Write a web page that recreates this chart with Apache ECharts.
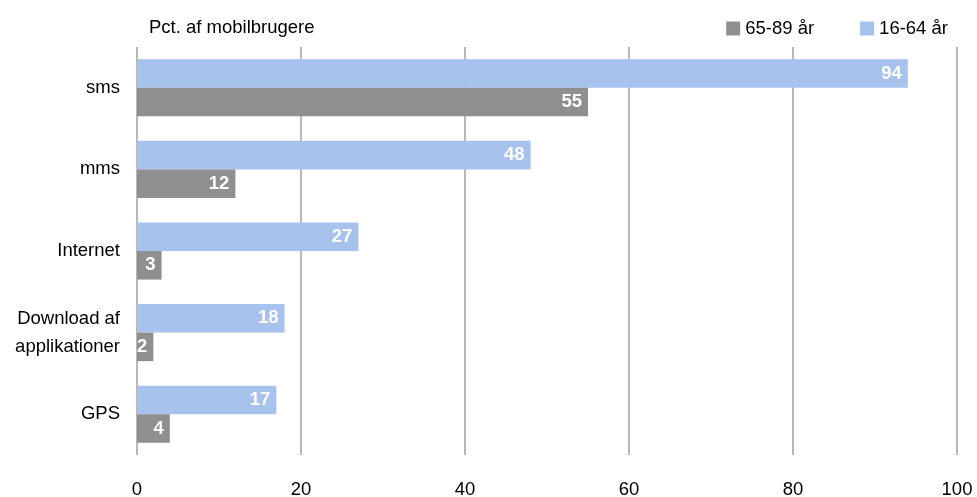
<!DOCTYPE html>
<html><head><meta charset="utf-8">
<script src="https://cdn.jsdelivr.net/npm/echarts@6/dist/echarts.min.js"></script>
<style>html,body{margin:0;padding:0;background:#fff}#c{width:977px;height:497px}</style>
</head><body><div id="c"></div>
<script>
const categories = ['sms', 'mms', 'Internet', 'Download af\napplikationer', 'GPS'];
const young = [94, 48, 27, 18, 17];
const old = [55, 12, 3, 2, 4];
const seriesNames = ['16-64 år', '65-89 år'];
const xTicks = [0, 20, 40, 60, 80, 100];

const FONT = 'Liberation Sans';
const FS = 18.5;
const chart = echarts.init(document.getElementById('c'));
const lbl = {show: true, position: 'insideRight', color: '#fff', fontWeight: 'bold', fontSize: FS, fontFamily: FONT, distance: 6};
chart.setOption({
  animation: false,
  textStyle: {fontFamily: FONT},
  title: {text: 'Pct. af mobilbrugere', left: 144, top: 13, textStyle: {fontSize: FS, fontWeight: 'normal', color: '#000', fontFamily: FONT}},
  legend: {data: [seriesNames[1], seriesNames[0]], right: 24, top: 14, itemWidth: 14, itemHeight: 14, itemGap: 46,
    textStyle: {fontSize: FS, color: '#000', fontFamily: FONT}, icon: 'rect'},
  grid: {left: 137, right: 20, top: 47, bottom: 42, containLabel: false, outerBoundsMode: 'none'},
  xAxis: {type: 'value', min: xTicks[0], max: xTicks[xTicks.length-1], interval: 20,
    axisLine: {show: false}, axisTick: {show: false},
    axisLabel: {fontSize: FS, color: '#000', margin: 25, fontFamily: FONT},
    splitLine: {show: true, lineStyle: {color: '#b8b8b8', width: 2}}},
  yAxis: {type: 'category', data: categories, inverse: true,
    axisLine: {show: false}, axisTick: {show: false},
    axisLabel: {fontSize: FS, color: '#000', margin: 17, lineHeight: 28, fontFamily: FONT}},
  series: [
    {name: seriesNames[0], type: 'bar', data: young, itemStyle: {color: '#a7c2ec'}, barGap: '0%', barCategoryGap: '30%', label: lbl},
    {name: seriesNames[1], type: 'bar', data: old, itemStyle: {color: '#8f8f8f'}, barGap: '0%', barCategoryGap: '30%', label: lbl}
  ]
});
</script></body></html>
